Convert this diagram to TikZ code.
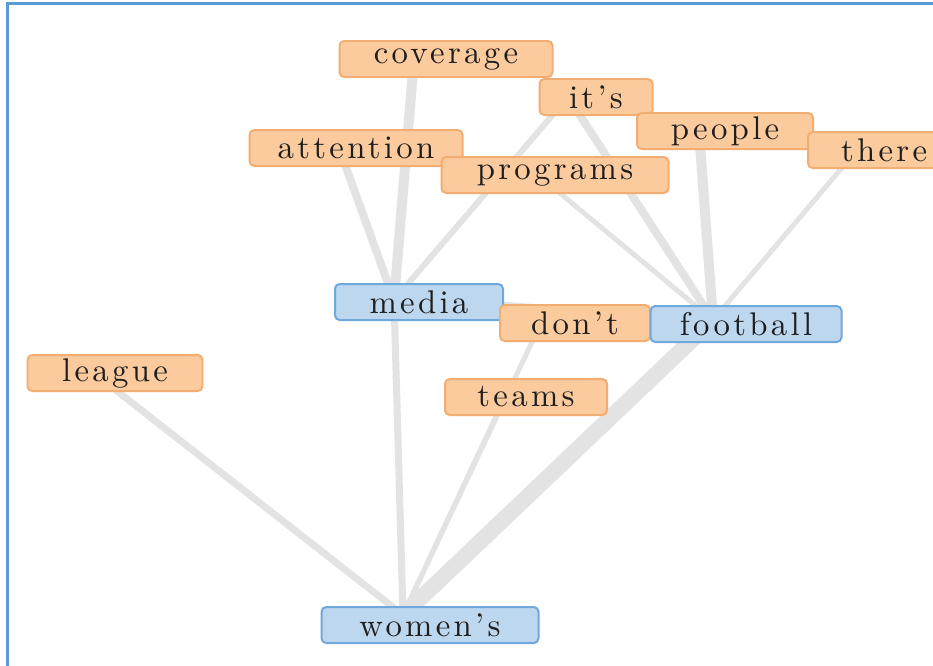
\documentclass[tikz,border=0pt]{standalone}
\usepackage{fontspec}
\setmainfont{lmroman10-regular.otf}[LetterSpace=10]
\usetikzlibrary{backgrounds}
\newdimen\pxu \pxu=0.03cm
\definecolor{wordfill}{HTML}{FBCB9E}
\definecolor{wordline}{HTML}{F2AE72}
\definecolor{hubfill}{HTML}{BDD7EE}
\definecolor{hubline}{HTML}{6FA8DC}
\definecolor{linkgray}{HTML}{E3E3E3}
\definecolor{wordtext}{HTML}{1E1E1E}
\definecolor{frameblue}{HTML}{5B9BD5}
\begin{document}
\begin{tikzpicture}[x=0.03cm, y=-0.03cm,
  every node/.style={font=\fontsize{28}{31}\selectfont, text=wordtext},
  word/.style={draw=wordline, fill=wordfill, line width=1.7pt, rounded corners=4pt, minimum height=36\pxu, inner sep=0pt},
  hub/.style={word, draw=hubline, fill=hubfill},
  link/.style={draw=linkgray, line width=#1\pxu}]
\useasboundingbox (0,0) rectangle (933,665);
% word boxes
\node[word, minimum width=213\pxu] (attention) at (356,148) {attention};
\node[word, minimum width=227\pxu] (programs) at (555,175) {programs};
\node[word, minimum width=213\pxu] (coverage) at (446,59) {coverage};
\node[word, minimum width=113\pxu] (its) at (596,97) {it's};
\node[word, minimum width=176\pxu] (people) at (725,131) {people};
\node[word, anchor=west, inner xsep=33\pxu] (theres) at (807,150) {there's};
\node[hub, minimum width=168\pxu] (media) at (419,302) {media};
\node[word, minimum width=150\pxu] (dont) at (575,323) {don't};
\node[hub, minimum width=191\pxu] (football) at (746,324) {football};
\node[word, minimum width=175\pxu] (league) at (115,373) {league};
\node[word, minimum width=162\pxu] (teams) at (526,397) {teams};
\node[hub, minimum width=217\pxu] (womens) at (430,625) {women's};
% links, behind the boxes
\begin{scope}[on background layer]
\draw[link=10] ([shift={(-32,0)}]coverage.center) -- ([shift={(-25,-2)}]media.center);
\draw[link=8] ([shift={(-17,0)}]attention.center) -- ([shift={(-25,-2)}]media.center);
\draw[link=6] ([shift={(-28,0)}]its.center) -- ([shift={(-25,-2)}]media.center);
\draw[link=8] ([shift={(-28,0)}]its.center) -- ([shift={(-33,-4)}]football.center);
\draw[link=5] ([shift={(-17,0)}]programs.center) -- ([shift={(-33,-4)}]football.center);
\draw[link=10] ([shift={(-26,0)}]people.center) -- ([shift={(-33,-4)}]football.center);
\draw[link=5] ([shift={(50,0)}]theres.west) -- ([shift={(-33,-4)}]football.center);
\draw[link=5] ([shift={(-25,-6)}]media.center) -- ([shift={(-33,-4)}]football.center);
\draw[link=7] ([shift={(-25,-2)}]media.center) -- ([shift={(-27,-10)}]womens.center);
\draw[link=5] ([shift={(-34,0)}]dont.center) -- ([shift={(-27,-10)}]womens.center);
\draw[link=5] ([shift={(-21,0)}]teams.center) -- ([shift={(-27,-10)}]womens.center);
\draw[link=16] ([shift={(-33,-4)}]football.center) -- ([shift={(-27,-10)}]womens.center);
\draw[link=7] ([shift={(-21,0)}]league.center) -- ([shift={(-27,-10)}]womens.center);
\end{scope}
% frame, cut by the page edge
\draw[frameblue, line width=3\pxu] (7,700) -- (7,3) -- (1000,3);
\end{tikzpicture}
\end{document}
